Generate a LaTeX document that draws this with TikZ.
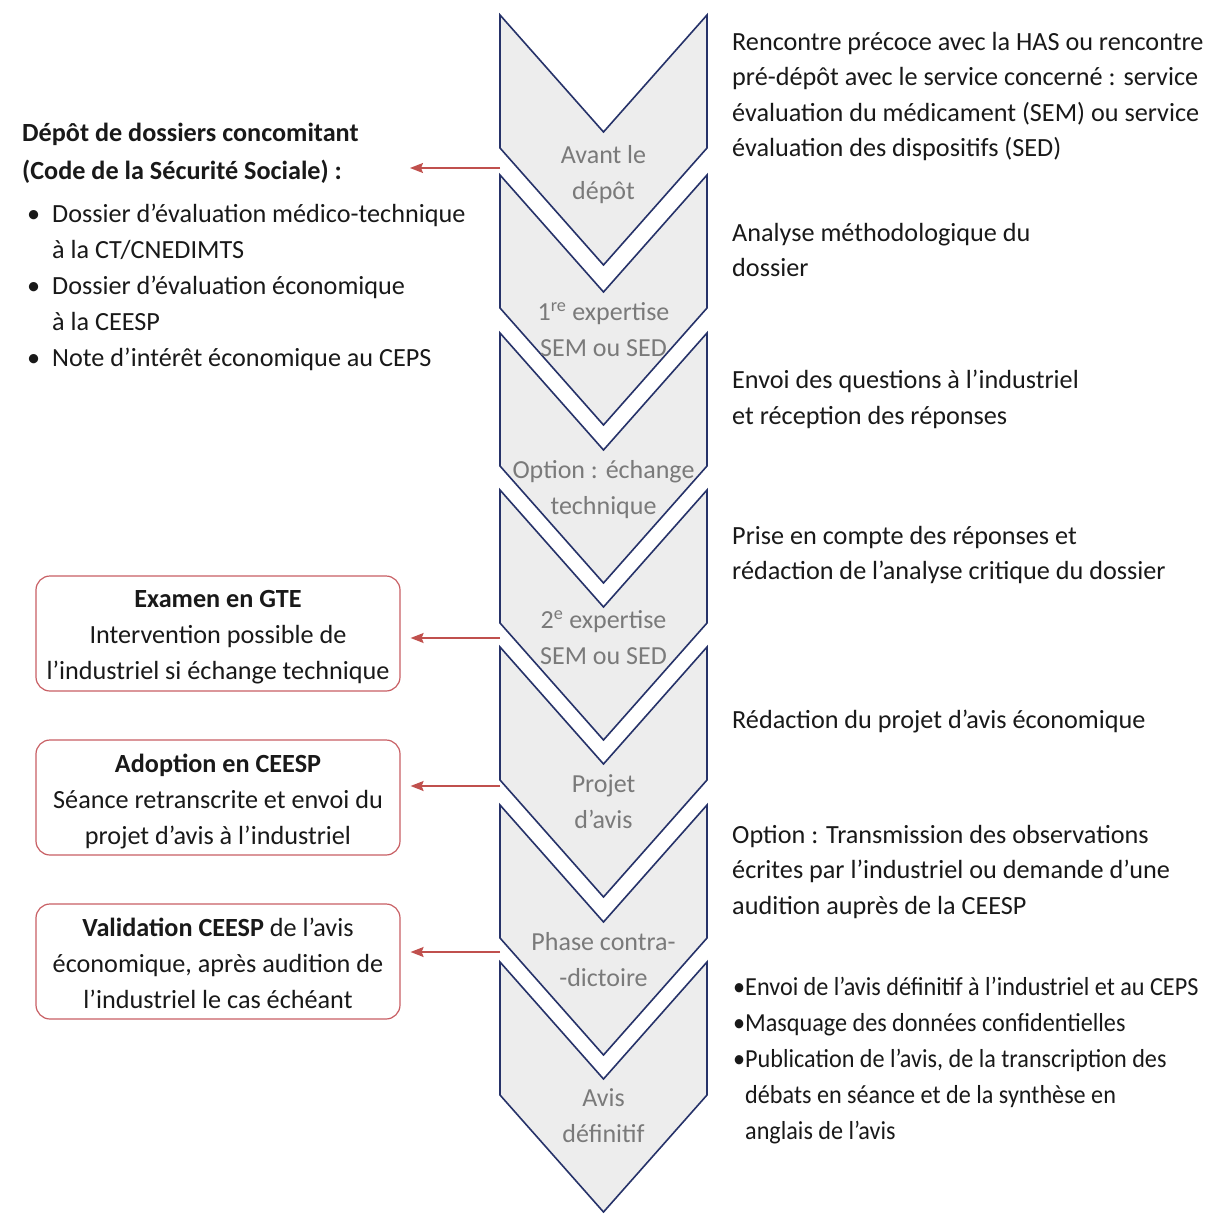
\documentclass[tikz,border=0pt]{standalone}
\usepackage{fontspec}
\setmainfont{Carlito}
\newfontfamily\condfont[FakeStretch=0.93]{Carlito}
\usetikzlibrary{arrows.meta}
\definecolor{chevfill}{RGB}{237,237,237}
\definecolor{chevline}{RGB}{38,50,105}
\definecolor{chevtext}{RGB}{122,122,122}
\definecolor{redarr}{RGB}{192,80,77}
\definecolor{boxline}{RGB}{200,95,100}
\definecolor{txt}{RGB}{25,25,25}
\begin{document}
\begin{tikzpicture}[x=1pt,y=-1pt,
  chev/.style={fill=chevfill, draw=chevline, line width=1.6pt, line join=miter},
  chevlabel/.style={anchor=north, inner sep=0pt, align=center, text=chevtext, font=\fontsize{26}{36}\selectfont, execute at begin node=\strut},
  rtext/.style={anchor=north west, inner sep=0pt, align=left, text=txt, font=\fontsize{26.2}{35.5}\selectfont, execute at begin node=\strut},
  boxframe/.style={draw=boxline, line width=1.2pt, rounded corners=14pt, minimum width=364pt, minimum height=115pt, inner sep=0pt},
  boxtext/.style={inner sep=0pt, align=center, text=txt, font=\fontsize{26.2}{36}\selectfont, execute at begin node=\strut, execute at end node=\strut},
  arr/.style={draw=redarr, line width=1.5pt, -{Stealth[length=13pt,width=10pt,inset=2pt]}}
]
\useasboundingbox[fill=white] (0,0) rectangle (1209,1220);

% chevrons
\foreach \T in {15,175,333,490,647,805,962}{
  \draw[chev] (500,\T) -- (603.5,\T+117) -- (707,\T) -- (707,\T+133) -- (603.5,\T+250) -- (500,\T+133) -- cycle;
}

% chevron labels
\node[chevlabel] (c1) at (603.5,145) {Avant le\\dépôt};
\node[chevlabel] (c2) at (603.5,302) {1\textsuperscript{re} expertise\\SEM ou SED};
\node[chevlabel] (c3) at (603.5,460) {Option : échange\\technique};
\node[chevlabel] (c4) at (603.5,610) {2\textsuperscript{e} expertise\\SEM ou SED};
\node[chevlabel] (c5) at (603.5,774) {Projet\\d’avis};
\node[chevlabel] (c6) at (603.5,932) {Phase contra-\\-dictoire};
\node[chevlabel] (c7) at (603.5,1088) {Avis\\définitif};

% right texts
\node[rtext] (r1) at (732,32) {Rencontre précoce avec la HAS ou rencontre\\pré-dépôt avec le service concerné : service\\évaluation du médicament (SEM) ou service\\évaluation des dispositifs (SED)};
\node[rtext] (r2) at (732,223) {Analyse méthodologique du\\dossier};
\node[rtext] (r3) at (732,370) {Envoi des questions à l’industriel\\et réception des réponses};
\node[rtext] (r4) at (732,526) {Prise en compte des réponses et\\rédaction de l’analyse critique du dossier};
\node[rtext] (r5) at (732,703) {Rédaction du projet d’avis économique};
\node[rtext] (r6) at (732,825) {Option : Transmission des observations\\écrites par l’industriel ou demande d’une\\audition auprès de la CEESP};
\node[rtext, font=\condfont\fontsize{26}{36}\selectfont] (r7) at (733,977) {\makebox[12pt][l]{•}Envoi de l’avis définitif à l’industriel et au CEPS\\\makebox[12pt][l]{•}Masquage des données confidentielles\\\makebox[12pt][l]{•}Publication de l’avis, de la transcription des\\\hspace*{12pt}débats en séance et de la synthèse en\\\hspace*{12pt}anglais de l’avis};

% left texts
\node[rtext, font=\bfseries\fontsize{26.2}{38}\selectfont] (l1) at (22,123) {Dépôt de dossiers concomitant\\(Code de la Sécurité Sociale) :};
\node[rtext, font=\fontsize{26.2}{36}\selectfont] (l2) at (27,204) {\makebox[25pt][l]{•}Dossier d’évaluation médico-technique\\\hspace*{25pt}à la CT/CNEDIMTS\\\makebox[25pt][l]{•}Dossier d’évaluation économique\\\hspace*{25pt}à la CEESP\\\makebox[25pt][l]{•}Note d’intérêt économique au CEPS};

% boxes
\node[boxframe] (b1) at (218,633.5) {};
\node[boxframe] (b2) at (218,797.5) {};
\node[boxframe] (b3) at (218,961.5) {};
\node[boxtext] (b1t) at (218,640.5) {\textbf{Examen en GTE}\\Intervention possible de\\l’industriel si échange technique};
\node[boxtext] (b2t) at (218,804.5) {\textbf{Adoption en CEESP}\\Séance retranscrite et envoi du\\projet d’avis à l’industriel};
\node[boxtext] (b3t) at (218,968.5) {\textbf{Validation CEESP} de l’avis\\économique, après audition de\\l’industriel le cas échéant};

% arrows
\coordinate (s1) at (500,168);
\coordinate (t1) at (410,168);
\coordinate (s2) at (500,638);
\coordinate (s3) at (500,786);
\coordinate (s4) at (500,952);
\draw[arr] (s1) -- (t1);
\draw[arr, shorten >=10pt] (s2) -- (s2 -| b1.east);
\draw[arr, shorten >=10pt] (s3) -- (s3 -| b2.east);
\draw[arr, shorten >=10pt] (s4) -- (s4 -| b3.east);
\end{tikzpicture}
\end{document}
